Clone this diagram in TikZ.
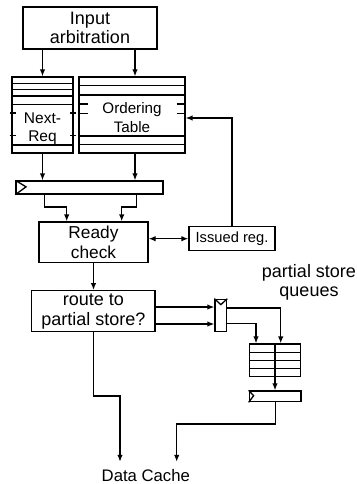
\documentclass[tikz,border=0pt]{standalone}
\usepackage{fontspec}
\setmainfont{Liberation Sans}
\usetikzlibrary{calc,arrows.meta}
\newcommand\myfs[2]{\fontsize{#1}{#2}\selectfont}
\begin{document}
\begin{tikzpicture}[x=1pt,y=-1pt,
  line width=1.3pt,
  box/.style={draw,rectangle,inner sep=0pt,align=center},
  txt/.style={inner sep=0pt,align=center},
  arr/.style={-{Latex[length=7pt,width=5.5pt]}},
  darr/.style={{Latex[length=7pt,width=5.5pt]}-{Latex[length=7pt,width=5.5pt]}}]
\useasboundingbox (0,0) rectangle (356,484);

% boxes
\node[box,minimum width=134pt,minimum height=42pt,font=\myfs{18}{19.3}] (inarb) at (90,28) {Input\\arbitration};

\node[box,minimum width=61pt,minimum height=76pt] (nr) at (42.5,115) {};
\node[box,minimum width=106pt,minimum height=76pt] (ord) at (132,115) {};
\foreach \y in {83.3,89.5,96,104.5,145} \draw (12,\y) -- (73,\y);
\foreach \y in {113,135.5} {\draw (9.5,\y) -- (15.5,\y); \draw (70,\y) -- (76,\y);}
\foreach \y in {85.5,95,136,144.5} \draw (79,\y) -- (185,\y);
\foreach \y in {104,113.5} {\draw (79,\y) -- (87.5,\y); \draw (176.5,\y) -- (185,\y);}
\node[txt,font=\myfs{15.5}{18}] (nrt) at (42.5,128.4) {Next-\\Req};
\node[txt,font=\myfs{15.2}{18.3}] (ordt) at (132,117.6) {Ordering\\Table};

\node[box,minimum width=147pt,minimum height=13pt] (reg1) at (89.5,187.5) {};
\draw (reg1.north west) -- ++(10.7,6.5) -- (reg1.south west);

\node[box,minimum width=109pt,minimum height=40.7pt,font=\myfs{17.3}{19.3}] (rc) at (93.5,242.35) {Ready\\check};
\node[box,minimum width=86pt,minimum height=24pt,font=\myfs{14.7}{17}] (ir) at (232,238.7) {Issued reg.};
\node[box,minimum width=123.3pt,minimum height=41pt,font=\myfs{18}{20}] (route) at (93.35,311.2) {route to\\partial store?};
\node[txt,font=\myfs{18}{19.2}] (psq) at (309,282.5) {partial store\\queues};

\node[box,minimum width=11.7pt,minimum height=32.4pt] (mux) at (220.85,315.5) {};
\draw (mux.north west) -- ($(mux.north)+(0,6)$) -- (mux.north east);

\node[box,minimum width=51.4pt,minimum height=32.7pt] (q) at (275,360.35) {};
\foreach \y in {352.2,360.4,368.5} \draw (249.3,\y) -- (300.7,\y);
\draw (q.north) -- (q.south);

\node[box,minimum width=51.7pt,minimum height=10.7pt] (reg2) at (275.15,396.35) {};
\draw (reg2.north west) -- ++(5,5.35) -- (reg2.south west);

\node[inner sep=0pt,outer ysep=7.8pt,anchor=base,font=\myfs{16.7}{20}] (dc) at (145.8,481.7) {Data Cache};

% connectors
\coordinate (oc) at (135,0);
\draw[arr] (inarb.south -| nr.north) -- (nr.north);
\draw[arr] (inarb.south -| oc) -- (ord.north -| oc);
\draw[arr] (nr.south) -- (reg1.north -| nr.south);
\draw[arr] (ord.south -| oc) -- (reg1.north -| oc);

\coordinate (k1) at (44.5,207);
\coordinate (k2) at (66.7,207);
\coordinate (k3) at (136.5,207);
\coordinate (k4) at (121.7,207);
\draw[arr] (reg1.south -| k1) -- (k1) -- (k2) -- (rc.north -| k2);
\draw[arr] (reg1.south -| k3) -- (k3) -- (k4) -- (rc.north -| k4);

\draw[darr] (ir.west -| rc.east) -- (ir.west);
\coordinate (fb) at (232,118);
\draw[arr] (ir.north) -- (fb) -- (ord.east |- fb);

\draw[arr] (rc.south) -- (route.north -| rc.south);

\coordinate (m1) at (0,307);
\coordinate (m2) at (0,324);
\draw[arr] (route.east |- m1) -- (mux.west |- m1);
\draw[arr] (route.east |- m2) -- (mux.west |- m2);

\coordinate (o1) at (280.7,308);
\coordinate (o2) at (256,323.5);
\draw[arr] (mux.east |- o1) -- (o1) -- (q.north -| o1);
\draw[arr] (mux.east |- o2) -- (o2) -- (q.north -| o2);

\draw[arr] (q.south) -- (reg2.north -| q.south);

\coordinate (c1) at (120,396);
\draw[arr] (route.south) -- (route.south |- c1) -- (c1) -- (dc.north -| c1);
\coordinate (c2) at (176.7,424);
\draw[arr] (reg2.south) -- (reg2.south |- c2) -- (c2) -- (dc.north -| c2);
\end{tikzpicture}
\end{document}
